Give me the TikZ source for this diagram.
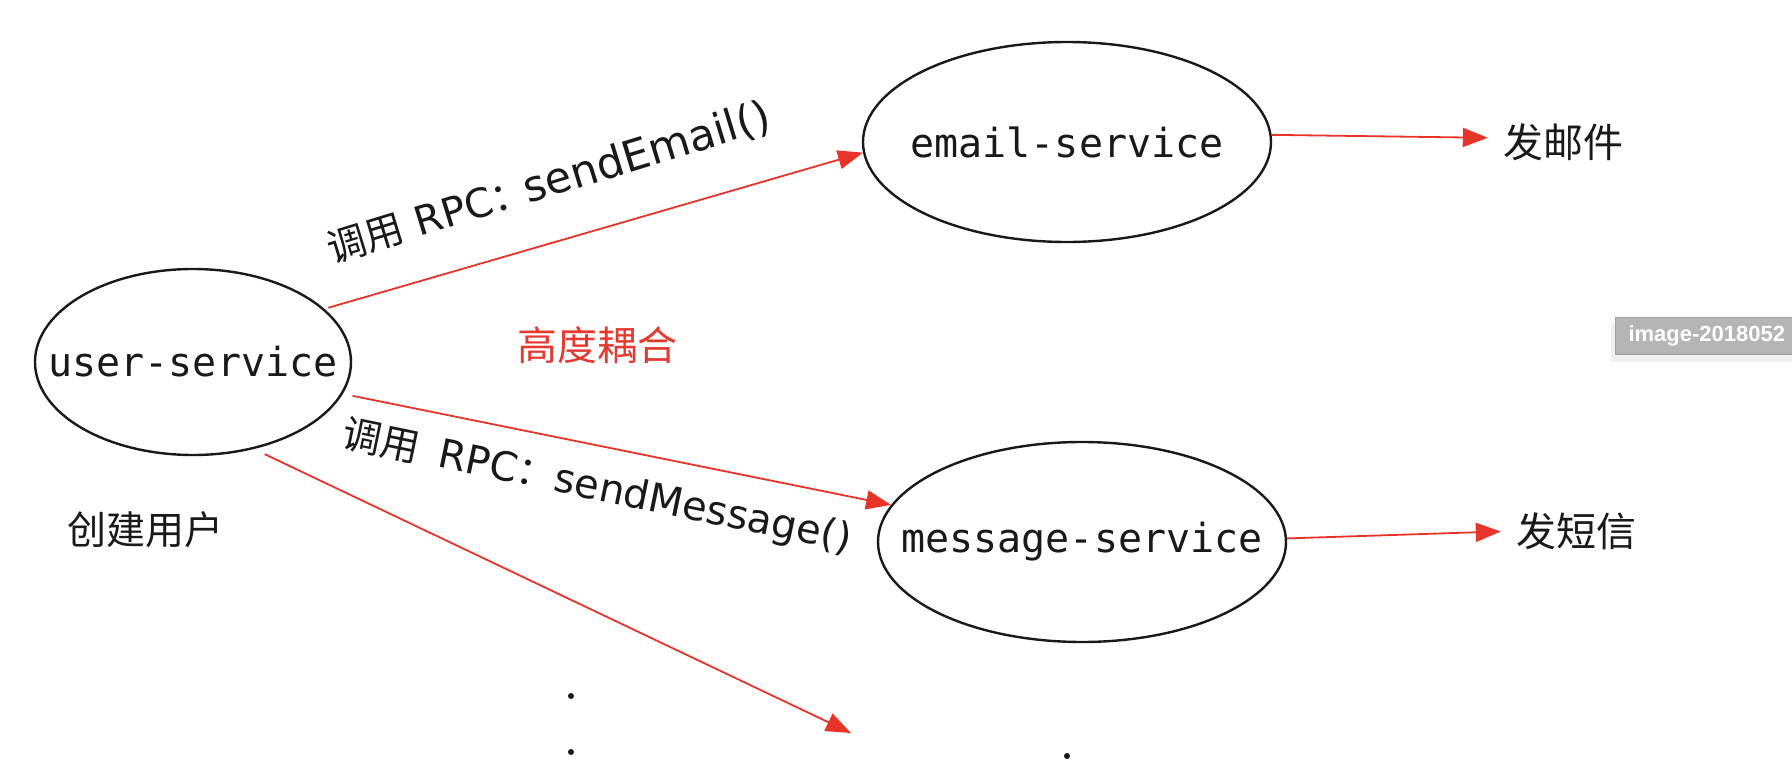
\documentclass[tikz,border=0pt]{standalone}
\usepackage{fontspec}
\usetikzlibrary{arrows.meta,shapes.geometric}
\newfontfamily\cjk{Noto Sans CJK SC}
\newfontfamily\monof{DejaVu Sans Mono}
\newfontfamily\labf{DejaVu Sans}
\newfontfamily\tagf{Liberation Sans}
\definecolor{arrowred}{RGB}{232,52,40}
\definecolor{txtred}{RGB}{228,58,48}
\definecolor{inkc}{RGB}{25,25,25}
\definecolor{tagfill}{RGB}{181,181,181}
\definecolor{tagline}{RGB}{160,160,160}
\newcommand{\lzh}[1]{{\cjk\fontsize{39}{46}\selectfont #1}}
\newcommand{\lla}[1]{{\labf\fontsize{40}{48}\selectfont #1}}
\newcommand{\llw}[1]{{\labf\fontsize{43}{50}\selectfont #1}}
\newcommand{\ctr}[1]{\makebox[0pt][c]{#1}}
\begin{document}
\begin{tikzpicture}[x=1pt,y=-1pt,
  svc/.style={ellipse, draw=inkc, line width=2.4pt, inner sep=0pt, text=inkc,
              font=\monof\fontsize{40}{48}\selectfont},
  conn/.style={draw=arrowred, line width=1.8pt, -{Triangle[length=25pt,width=19pt]}},
  zh/.style={inner sep=0pt, text=inkc, font=\cjk\fontsize{40}{48}\selectfont},
  lbl/.style={inner sep=0pt, text=inkc},
  dotc/.style={circle, fill=inkc, inner sep=0pt, minimum size=6pt},
  tagbox/.style={anchor=west, fill=tagfill, draw=tagline, line width=1pt, text=white,
                 font=\tagf\bfseries\fontsize{22}{26}\selectfont, minimum height=37pt,
                 inner xsep=13pt}
]
\useasboundingbox (0,0) rectangle (1792,776);
\fill[white] (0,0) rectangle (1792,776);

% services
\node[svc, minimum width=316pt, minimum height=186pt] (user) at (193,362) {\ctr{user-service}};
\node[svc, minimum width=408pt, minimum height=200pt] (email) at (1067,142) {\ctr{email-service}};
\node[svc, minimum width=408pt, minimum height=200pt] (msg) at (1082,542) {\ctr{message-service}};

% texts
\node[zh] (mail) at (1563,142) {发邮件};
\node[zh] (sms) at (1576,531) {发短信};
\node[zh, font=\cjk\fontsize{39}{46}\selectfont] (create) at (145,530) {创建用户};
\node[zh, text=txtred] (coup) at (597,345) {高度耦合};

% edge labels
\node[lbl, rotate=17] (lemail) at (549,183)
  {\lzh{调用}\hspace{13pt}\lla{RPC}\lzh{：}\hspace{-5pt}\llw{sendEmail()}};
\node[lbl, rotate=-11.7] (lmsg) at (597,488)
  {\lzh{调用}\hspace{20pt}\lla{RPC}\lzh{：}\lla{sendMessage()}};

% dots
\node[dotc] (d1) at (571,696) {};
\node[dotc] (d2) at (571,752) {};
\node[dotc] (d3) at (1067,756) {};

% connectors
\coordinate (more) at (851,733);
\draw[conn, shorten <=4pt] (user.22) -- (email.183);
\draw[conn, shorten <=10pt] (user.-12) -- (msg.169);
\draw[conn, shorten <=12pt] (user.-55) -- (more);
\draw[conn, shorten >=15pt] (email.2) -- ([yshift=4pt]mail.west);
\draw[conn, shorten >=15pt] (msg.1) -- (sms.west);

% screenshot tag
\fill[black!6] (1611,322) rectangle (1800,362);
\node[tagbox] (tag) at (1615,336) {image-2018052};
\end{tikzpicture}
\end{document}
